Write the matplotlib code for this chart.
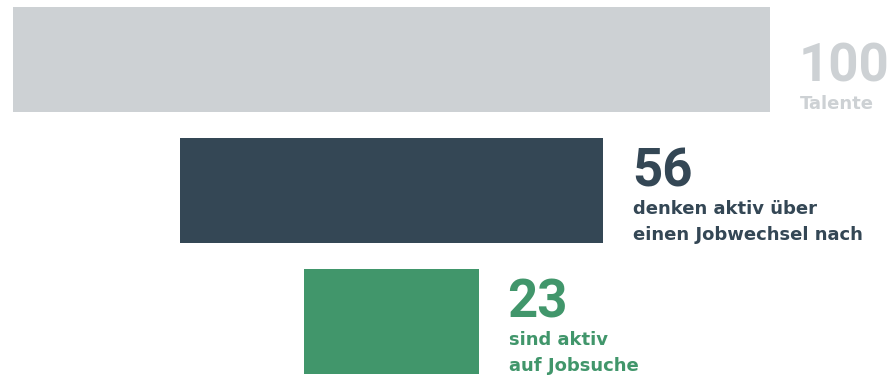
import matplotlib
matplotlib.use("Agg")
import matplotlib.pyplot as plt

values = [100, 56, 23]
numbers = ["100", "56", "23"]
sublabels = [["Talente"], ["denken aktiv über", "einen Jobwechsel nach"], ["sind aktiv", "auf Jobsuche"]]
colors = ["#CDD1D4", "#344755", "#41966B"]

plt.rcParams['font.family'] = ['DejaVu Sans']

fig = plt.figure(figsize=(8.91, 3.76), dpi=100)
ax = fig.add_axes([0, 0, 1, 1])
ax.set_xlim(-51.72, 65.98)
ax.set_ylim(2.412, -0.454)
ax.axis('off')

H = 0.8
LS = 26
for i, v in enumerate(values):
    ax.barh(i, v, left=-v / 2, height=H, color=colors[i])
    xr = v / 2
    yb = i + H / 2
    lines = sublabels[i]
    n = len(lines)
    for j, line in enumerate(lines):
        up = (n - 1 - j) * LS + 3
        ax.annotate(line, xy=(xr, yb), xytext=(30, up), textcoords='offset pixels',
                    ha='left', va='baseline', fontsize=13, fontweight='bold', color=colors[i])
    ax.annotate(numbers[i], xy=(xr, yb), xytext=(29, (n - 1) * LS + 3 + 28), textcoords='offset pixels',
                ha='left', va='baseline', fontsize=38, fontweight='bold', color=colors[i],
                family=['Roboto', 'DejaVu Sans'])

fig.savefig("out.png", dpi=100)
